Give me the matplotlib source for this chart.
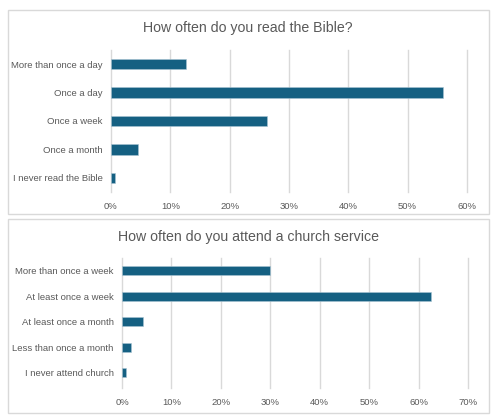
import matplotlib
matplotlib.use("Agg")
import matplotlib.pyplot as plt
from matplotlib.patches import Rectangle
from matplotlib.ticker import PercentFormatter

# data (percent)
bible_labels = ["More than once a day", "Once a day", "Once a week",
                "Once a month", "I never read the Bible"]
bible_values = [12.6, 56.0, 26.3, 4.6, 0.6]

church_labels = ["More than once a week", "At least once a week",
                 "At least once a month", "Less than once a month",
                 "I never attend church"]
church_values = [30.0, 62.6, 4.3, 1.8, 0.9]

BAR = "#156082"
GRID = "#d9d9d9"
TXT = "#595959"
W, H = 500, 420

plt.rcParams["font.family"] = ["Liberation Sans", "DejaVu Sans"]

fig = plt.figure(figsize=(W / 100, H / 100), dpi=100)


def px_box(x0, y0, x1, y1):
    # pixel box (top-left origin) -> figure fraction rect
    return [x0 / W, 1 - y1 / H, (x1 - x0) / W, (y1 - y0) / H]


def panel(x0, y0, x1, y1):
    r = Rectangle((x0 / W, 1 - y1 / H), (x1 - x0) / W, (y1 - y0) / H,
                  transform=fig.transFigure, facecolor="white",
                  edgecolor=GRID, linewidth=1, zorder=-5)
    fig.patches.append(r)


def bar_chart(rect, labels, values, xmax, ylim):
    ax = fig.add_axes(rect)
    ax.set_facecolor("none")
    ax.barh(range(len(labels)), values, height=0.36, color=BAR,
            edgecolor="#a9c4d2", linewidth=0.4, zorder=3)
    ax.set_xlim(0, xmax)
    ax.set_ylim(*ylim)
    ax.set_xticks(range(0, xmax + 1, 10))
    ax.xaxis.set_major_formatter(PercentFormatter(decimals=0))
    ax.set_yticks(range(len(labels)))
    ax.set_yticklabels(labels)
    ax.grid(axis="x", color=GRID, linewidth=1, zorder=0)
    for g in ax.xaxis.get_gridlines():
        g.set_clip_on(False)
    for s in ax.spines.values():
        s.set_visible(False)
    ax.tick_params(length=0, labelsize=6.8, labelcolor=TXT)
    ax.tick_params(axis="x", pad=7)
    ax.tick_params(axis="y", pad=6)
    return ax


# top panel
panel(8, 10, 489, 214)
fig.text(248 / W, 1 - 28 / H, "How often do you read the Bible?",
         ha="center", va="center", fontsize=10.2, color=TXT)
bar_chart(px_box(111, 50, 467, 192), bible_labels, bible_values, 60, (4.5, -0.5))

# bottom panel
panel(8, 219, 489, 413)
fig.text(248 / W, 1 - 237 / H, "How often do you attend a church service",
         ha="center", va="center", fontsize=10.2, color=TXT)
bar_chart(px_box(122, 258, 468, 388), church_labels, church_values, 70, (4.6, -0.5))

fig.savefig("out.png", dpi=100)
